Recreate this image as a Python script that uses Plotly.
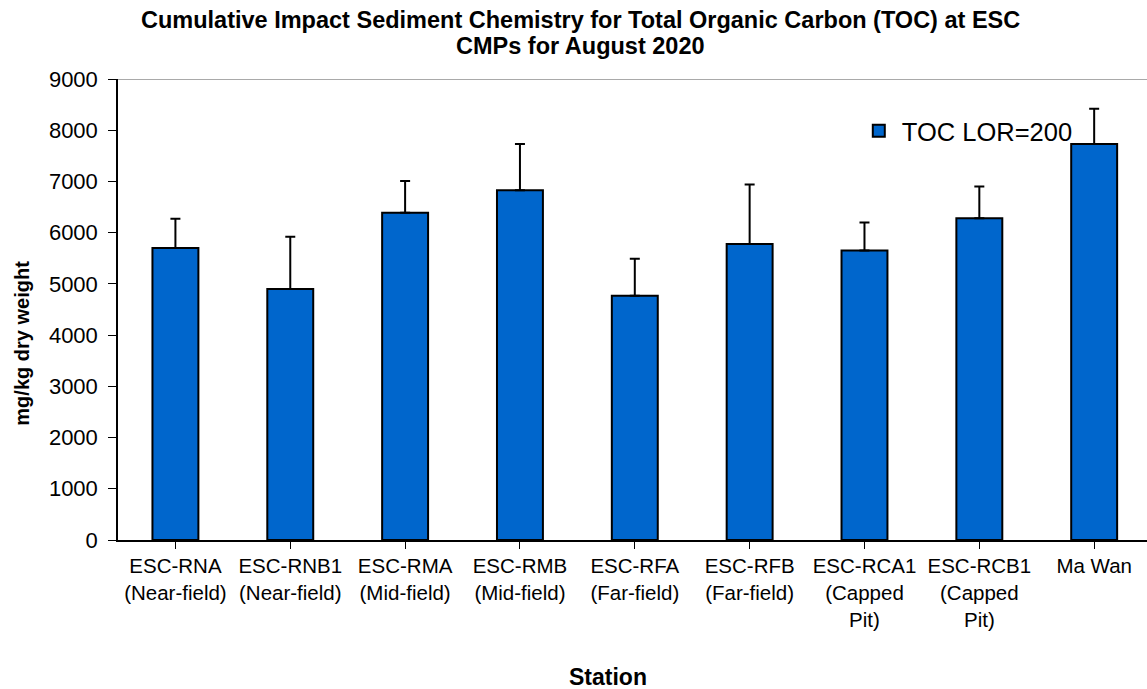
import plotly.graph_objects as go

stations = [
    "ESC-RNA<br>(Near-field)",
    "ESC-RNB1<br>(Near-field)",
    "ESC-RMA<br>(Mid-field)",
    "ESC-RMB<br>(Mid-field)",
    "ESC-RFA<br>(Far-field)",
    "ESC-RFB<br>(Far-field)",
    "ESC-RCA1<br>(Capped<br>Pit)",
    "ESC-RCB1<br>(Capped<br>Pit)",
    "Ma Wan",
]
toc_values = [5700, 4900, 6390, 6830, 4770, 5780, 5650, 6280, 7730]
toc_errors = [570, 1020, 620, 900, 720, 1160, 550, 620, 690]
y_ticks = [0, 1000, 2000, 3000, 4000, 5000, 6000, 7000, 8000, 9000]
title_lines = [
    "Cumulative Impact Sediment Chemistry for Total Organic Carbon (TOC) at ESC",
    "CMPs for August 2020",
]

FONT = "Liberation Sans, Arial, sans-serif"

fig = go.Figure()
fig.add_trace(go.Bar(
    x=list(range(len(stations))),
    y=toc_values,
    name="TOC LOR=200",
    width=0.4,
    marker=dict(color="#0066CC", line=dict(color="black", width=2)),
    error_y=dict(type="data", array=toc_errors, symmetric=False,
                 arrayminus=[0] * len(toc_errors),
                 color="black", thickness=2, width=5),
))

fig.add_shape(type="line", xref="paper", yref="y", x0=0, x1=1, y0=9000, y1=9000,
              line=dict(color="#8c8c8c", width=1.5))

annotations = [
    dict(text="<b>" + title_lines[0] + "</b>", x=0.449, y=1.128, xref="paper", yref="paper",
         xanchor="center", yanchor="middle", showarrow=False,
         font=dict(family=FONT, size=23.5, color="black")),
    dict(text="<b>" + title_lines[1] + "</b>", x=0.449, y=1.0716, xref="paper", yref="paper",
         xanchor="center", yanchor="middle", showarrow=False,
         font=dict(family=FONT, size=23.5, color="black")),
    dict(text="<b>Station</b>", x=0.476, y=-0.297, xref="paper", yref="paper",
         xanchor="center", yanchor="middle", showarrow=False,
         font=dict(family=FONT, size=23, color="black")),
    dict(text="<b>mg/kg dry weight</b>", x=-0.0928, y=0.427, xref="paper", yref="paper",
         xanchor="center", yanchor="middle", showarrow=False, textangle=-90,
         font=dict(family=FONT, size=20, color="black")),
]

fig.update_layout(
    width=1147, height=689,
    margin=dict(l=117.5, r=0, t=79, b=149),
    paper_bgcolor="white", plot_bgcolor="white",
    font=dict(family=FONT, color="black", size=20),
    showlegend=True,
    legend=dict(x=0.717, y=0.887, xanchor="left", yanchor="middle",
                bgcolor="rgba(0,0,0,0)", font=dict(family=FONT, size=25.5, color="black"),
                itemwidth=36),
    annotations=annotations,
)

fig.update_xaxes(
    tickmode="array", tickvals=list(range(len(stations))), ticktext=stations,
    range=[-0.5, 8.46],
    showline=True, linecolor="black", linewidth=1.5,
    ticks="outside", tickson="boundaries", ticklen=7, tickcolor="black",
    showgrid=False, zeroline=False,
    tickfont=dict(family=FONT, size=20.5, color="black"),
)
fig.update_yaxes(
    range=[0, 9000], tickvals=y_ticks,
    showline=True, linecolor="black", linewidth=1.5,
    ticks="outside", ticklen=8, tickcolor="black",
    showgrid=False, zeroline=False, ticklabelstandoff=6,
    tickfont=dict(family=FONT, size=22, color="black"),
)

fig.write_html("out.html", config={"displayModeBar": False},
               post_script="document.body.style.margin='0px';")
